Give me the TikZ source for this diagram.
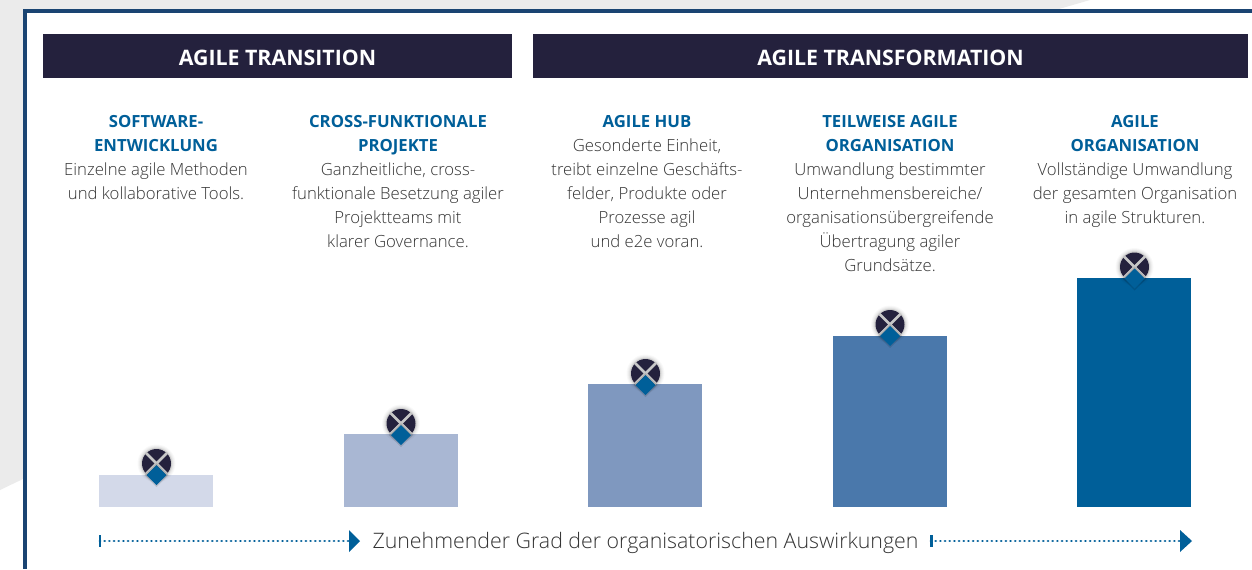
\documentclass[tikz,border=0pt]{standalone}
\usepackage{fontspec}
\setmainfont{Open Sans Light}[BoldFont=Open Sans Semibold]
\newfontfamily\hdf{Open Sans}
\usetikzlibrary{arrows.meta}
\definecolor{navy}{HTML}{24213D}
\definecolor{blue}{HTML}{005F99}
\definecolor{framec}{HTML}{1A4472}
\definecolor{bgc}{HTML}{EBEBEB}
\definecolor{txt}{HTML}{333333}
\tikzset{
 hdr/.style={fill=navy,draw=none,text=white,font=\hdf\fontsize{16}{20}\selectfont\bfseries,inner sep=0pt},
 col/.style={anchor=north,align=center,text=txt,inner sep=0pt,font=\fontsize{12.55}{18}\selectfont},
 dot/.style={draw=blue,line width=2.2pt,line cap=round,dash pattern=on 0.01pt off 3.5pt},
 tip/.style={fill=blue,draw=none},
 tick/.style={draw=blue,line width=2.1pt},
 mk/.style={fill=navy,draw=none,circle,minimum size=21.75pt,inner sep=0pt},
}
\newcommand{\ttl}[1]{{\hdf\color{blue}\bfseries #1}}
\begin{document}
\begin{tikzpicture}[x=0.75pt,y=-0.75pt]
\useasboundingbox (0,0) rectangle (1252,569);
% background
\fill[white] (0,0) rectangle (1252,569);
\fill[bgc] (0,0) -- (1090,0) -- (1052,11) -- (25,11) -- (25,478) -- (0,490) -- cycle;
\draw[line width=2.35pt,framec,line join=miter] (1252,11) -- (25,11) -- (25,569);
% headers
\node[hdr,minimum width=351.75pt,minimum height=33pt] (h1) at (277.5,56) {\rule{0pt}{15pt}AGILE TRANSITION};
\node[hdr,minimum width=536.25pt,minimum height=33pt] (h2) at (890.5,56) {\rule{0pt}{15pt}AGILE TRANSFORMATION};
% texts
\node[col] (t1) at (156,115) {\ttl{SOFTWARE-}\\\ttl{ENTWICKLUNG}\\Einzelne agile Methoden\\und kollaborative Tools.};
\node[col] (t2) at (398,115) {\ttl{CROSS-FUNKTIONALE}\\\ttl{PROJEKTE}\\Ganzheitliche, cross-\\funktionale Besetzung agiler\\Projektteams mit\\klarer Governance.};
\node[col] (t3) at (647,115) {\ttl{AGILE HUB}\\Gesonderte Einheit,\\treibt einzelne Geschäfts-\\felder, Produkte oder\\Prozesse agil\\und e2e voran.};
\node[col] (t4) at (890,115) {\ttl{TEILWEISE AGILE}\\\ttl{ORGANISATION}\\Umwandlung bestimmter\\Unternehmensbereiche/\\organisationsübergreifende\\Übertragung agiler\\Grundsätze.};
\node[col] (t5) at (1135,115) {\ttl{AGILE}\\\ttl{ORGANISATION}\\Vollständige Umwandlung\\der gesamten Organisation\\in agile Strukturen.};
% bars and markers
\foreach \n/\xl/\yt/\c in {1/99/475/D3D9E9,2/344/434/A9B7D3,3/588/384/7F98BF,4/833/336/4A78AB,5/1077/278/005F99}{
  \definecolor{bc}{HTML}{\c}
  \fill[bc] (\xl,\yt) rectangle (\xl+114,507);
}
\foreach \n/\x/\y in {1/156.5/463.5,2/401/423.5,3/645.5/373.5,4/890/324.5,5/1134.5/267}{
  \foreach \r/\o in {19/.025,18/.03,17/.04,16/.05,15.5/.06}{
    \fill[black,opacity=\o] (\x,\y) circle[x radius=\r,y radius=-\r];
  }
  \node[mk] (m\n) at (\x,\y) {};
  \draw[line width=2pt,black!22!white] (\x-10.5,\y-10.5) -- (\x+10.5,\y+10.5);
  \draw[line width=2pt,black!22!white] (\x+10.5,\y-10.5) -- (\x-10.5,\y+10.5);
  \fill[black,opacity=.12] (\x,\y-0.5) -- (\x+12,\y+11.5) -- (\x,\y+23.5) -- (\x-12,\y+11.5) -- cycle;
  \fill[blue] (\x,\y+1.5) -- (\x+10,\y+11.5) -- (\x,\y+21.5) -- (\x-10,\y+11.5) -- cycle;
}
% axis
\coordinate (a1) at (100,541);
\coordinate (a2) at (350,541);
\coordinate (b1) at (931,541);
\coordinate (b2) at (1181,541);
\node[anchor=center,text=txt,inner sep=0pt,font=\fontsize{16}{20}\selectfont] (lab) at (645.5,543) {Zunehmender Grad der organisatorischen Auswirkungen};
\draw[tick] (100,535) -- (100,547);
\draw[tick] (931.5,535) -- (931.5,547);
\draw[dot] (a1) -- (a2);
\draw[dot] (b1) -- (b2);
\fill[tip] (349,530) -- (360,541) -- (349,552) -- cycle;
\fill[tip] (1180,530) -- (1192,541) -- (1180,552) -- cycle;
\end{tikzpicture}
\end{document}
